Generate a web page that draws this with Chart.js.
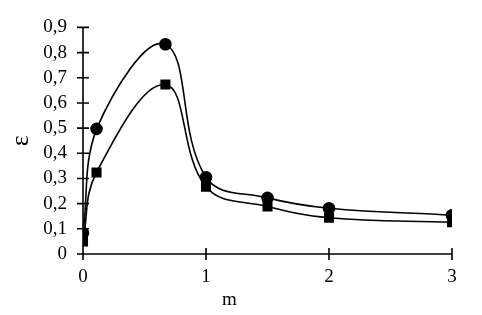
<!DOCTYPE html>
<html>
<head>
<meta charset="utf-8">
<script src="https://cdn.jsdelivr.net/npm/chart.js@4/dist/chart.umd.min.js"></script>
<style>
  html, body { margin: 0; padding: 0; background: #fff; }
  #wrap { width: 482px; height: 315px; }
</style>
</head>
<body>
<div id="wrap"><canvas id="chart"></canvas></div>
<script>
// data
const mValues = [0, 0.11, 0.67, 1, 1.5, 2, 3];
const circleSeries = [0.083, 0.497, 0.833, 0.305, 0.223, 0.182, 0.154];
const squareSeries = [0.05, 0.324, 0.673, 0.267, 0.189, 0.144, 0.126];
const yTicks = [0, 0.1, 0.2, 0.3, 0.4, 0.5, 0.6, 0.7, 0.8, 0.9];
const xTicks = [0, 1, 2, 3];

function toPoints(ys) {
    return mValues.map((x, i) => ({ x: x, y: ys[i] }));
}

// tick marks that cross the axis line on both sides
const crossTicks = {
    id: 'crossTicks',
    afterDraw(chart) {
        const ctx = chart.ctx;
        const xs = chart.scales.x;
        const ys = chart.scales.y;
        const len = 6;
        ctx.save();
        ctx.strokeStyle = '#000';
        ctx.lineWidth = 1.6;
        ctx.beginPath();
        ctx.moveTo(xs.left, ys.bottom);
        ctx.lineTo(xs.right, ys.bottom);
        ctx.moveTo(xs.left, ys.top);
        ctx.lineTo(xs.left, ys.bottom);
        ys.ticks.forEach(t => {
            const py = ys.getPixelForValue(t.value);
            ctx.moveTo(xs.left - len, py);
            ctx.lineTo(xs.left + len, py);
        });
        xs.ticks.forEach(t => {
            const px = xs.getPixelForValue(t.value);
            ctx.moveTo(px, ys.bottom - len);
            ctx.lineTo(px, ys.bottom + len);
        });
        ctx.stroke();
        ctx.restore();
    }
};

const font = { family: '"Liberation Serif", "Times New Roman", serif', size: 19 };

new Chart(document.getElementById('chart'), {
    type: 'scatter',
    data: {
        datasets: [
            {
                label: 'circles',
                data: toPoints(circleSeries),
                showLine: true,
                borderColor: '#000',
                backgroundColor: '#000',
                borderWidth: 1.6,
                tension: 0.4,
                pointStyle: 'circle',
                pointRadius: 5.5
            },
            {
                label: 'squares',
                data: toPoints(squareSeries),
                showLine: true,
                borderColor: '#000',
                backgroundColor: '#000',
                borderWidth: 1.6,
                tension: 0.4,
                pointStyle: 'rect',
                pointRadius: 6
            }
        ]
    },
    options: {
        responsive: true,
        maintainAspectRatio: false,
        animation: false,
        layout: { padding: { top: 16, right: 30, bottom: 0, left: 0 } },
        plugins: {
            legend: { display: false },
            tooltip: { enabled: false }
        },
        scales: {
            x: {
                type: 'linear',
                min: 0,
                max: 3,
                afterBuildTicks(scale) { scale.ticks = xTicks.map(v => ({ value: v })); },
                afterFit(scale) { scale.height = 61; },
                grid: { display: false, drawTicks: false },
                border: { display: false },
                ticks: { color: '#000', font: font, padding: 12, autoSkip: false, maxRotation: 0 },
                title: {
                    display: true,
                    // trailing spaces nudge the label left like the original
                    text: 'm\u00a0\u00a0\u00a0\u00a0\u00a0\u00a0\u00a0\u00a0\u00a0\u00a0\u00a0\u00a0\u00a0\u00a0\u00a0\u00a0',
                    color: '#000',
                    font: font,
                    padding: { top: 2 }
                }
            },
            y: {
                min: 0,
                max: 0.9,
                afterBuildTicks(scale) { scale.ticks = yTicks.map(v => ({ value: v })); },
                afterFit(scale) { scale.width = 83; },
                grid: { display: false, drawTicks: false },
                border: { display: false },
                ticks: {
                    color: '#000',
                    font: font,
                    padding: 16,
                    autoSkip: false,
                    callback: v => v === 0 ? '0' : v.toFixed(1).replace('.', ',')
                },
                title: {
                    display: true,
                    text: 'ε',
                    color: '#000',
                    font: { family: font.family, size: 26 },
                    padding: { top: 6, bottom: 4 }
                }
            }
        }
    },
    plugins: [crossTicks]
});
</script>
</body>
</html>
